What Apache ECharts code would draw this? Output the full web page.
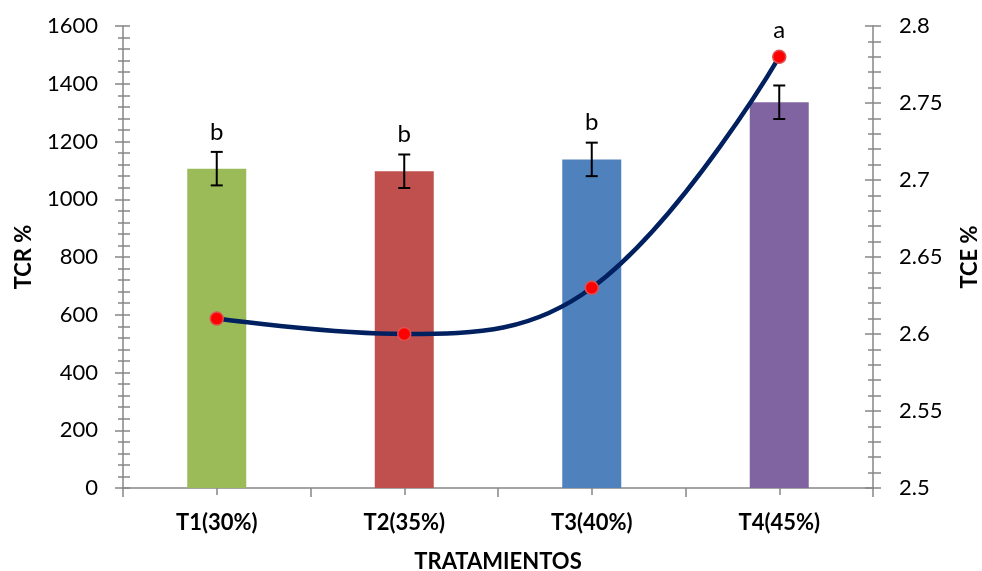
<!DOCTYPE html>
<html><head><meta charset="utf-8">
<script src="https://cdn.jsdelivr.net/npm/echarts@6/dist/echarts.min.js"></script>
<style>html,body{margin:0;padding:0;background:#fff}#c{width:982px;height:571px}</style>
</head><body><div id="c"></div>
<script>
const categories = ['T1(30%)', 'T2(35%)', 'T3(40%)', 'T4(45%)'];
const tcrValues = [1106, 1097, 1138, 1336];
const tcrErrors = [58, 58, 58, 58];
const tceValues = [2.61, 2.60, 2.63, 2.78];
const letters = ['b', 'b', 'b', 'a'];
const barColors = ['#9BBB59', '#C0504D', '#4F81BD', '#8064A2'];

const FONT = 'Lato';
const AX = '#868686';
const leftMin = 0, leftMax = 1600, rightMin = 2.5, rightMax = 2.8;

const chart = echarts.init(document.getElementById('c'));

function baseY(extra) {
  return Object.assign({
    type: 'value', splitLine: { show: false }
  }, extra);
}

const option = {
  animation: false,
  backgroundColor: '#fff',
  grid: { left: 123, right: 109, top: 26, bottom: 83, outerBoundsMode: 'none', containLabel: false },
  xAxis: [
    {
      type: 'category', data: categories, gridIndex: 0, position: 'bottom',
      axisLine: { lineStyle: { color: AX, width: 1.5 } },
      axisTick: { show: true, length: 9, lineStyle: { color: AX, width: 1.5 } },
      axisLabel: { fontFamily: FONT, fontWeight: 'bold', fontSize: 22, color: '#000', margin: 24 },
      name: 'TRATAMIENTOS', nameLocation: 'middle', nameGap: 74,
      nameTextStyle: { fontFamily: FONT, fontWeight: 'bold', fontSize: 22, color: '#000', verticalAlign: 'middle' }
    },
    {
      type: 'category', data: categories, gridIndex: 0, position: 'bottom', offset: -6,
      axisLine: { show: false },
      axisTick: { show: true, alignWithLabel: true, length: 13, lineStyle: { color: AX, width: 1.5 } },
      axisLabel: { show: false }
    }
  ],
  yAxis: [
    baseY({
      min: leftMin, max: leftMax, interval: 200, position: 'left',
      axisLine: { show: true, lineStyle: { color: AX, width: 1.5 } },
      axisTick: { show: true, length: 8, lineStyle: { color: AX, width: 1.5 } },
      minorTick: { show: true, splitNumber: 5, length: 5, lineStyle: { color: AX, width: 1.5 } },
      axisLabel: { fontFamily: FONT, fontSize: 22, color: '#000', margin: 25, formatter: v => String(v) },
      name: 'TCR %', nameLocation: 'middle', nameGap: 88, nameRotate: 90,
      nameTextStyle: { fontFamily: FONT, fontWeight: 'bold', fontSize: 22, color: '#000' }
    }),
    baseY({
      min: rightMin, max: rightMax, interval: 0.05, position: 'right',
      axisLine: { show: true, lineStyle: { color: AX, width: 1.5 } },
      axisTick: { show: true, length: 8, lineStyle: { color: AX, width: 1.5 } },
      minorTick: { show: true, splitNumber: 5, length: 8, lineStyle: { color: AX, width: 1.5 } },
      axisLabel: { fontFamily: FONT, fontSize: 22, color: '#000', margin: 26 },
      name: 'TCE %', nameLocation: 'middle', nameGap: 86, nameRotate: 90,
      nameTextStyle: { fontFamily: FONT, fontWeight: 'bold', fontSize: 22, color: '#000' }
    }),
    baseY({
      min: leftMin, max: leftMax, interval: 200, position: 'left',
      axisLine: { show: false },
      axisTick: { show: true, inside: true, length: 7, lineStyle: { color: AX, width: 1.5 } },
      minorTick: { show: true, splitNumber: 5, length: 7, lineStyle: { color: AX, width: 1.5 } },
      axisLabel: { show: false }
    }),
    baseY({
      min: rightMin, max: rightMax, interval: 0.05, position: 'right',
      axisLine: { show: false },
      axisTick: { show: true, inside: true, length: 8, lineStyle: { color: AX, width: 1.5 } },
      minorTick: { show: true, splitNumber: 5, length: 5, lineStyle: { color: AX, width: 1.5 } },
      axisLabel: { show: false }
    })
  ],
  series: [
    {
      type: 'bar', xAxisIndex: 0, yAxisIndex: 0, barWidth: 59, z: 2,
      data: tcrValues.map((v, i) => ({ value: v, itemStyle: { color: barColors[i] } }))
    },
    {
      type: 'custom', xAxisIndex: 0, yAxisIndex: 0, z: 3,
      data: tcrValues.map((v, i) => [i, v, tcrErrors[i], tceValues[i]]),
      renderItem: function (params, api) {
        const i = api.value(0), v = api.value(1), e = api.value(2), t = api.value(3);
        const top = api.coord([i, v + e]);
        const bot = api.coord([i, v - e]);
        const rect = params.coordSys;
        const lineY = rect.y + rect.height * (1 - (t - rightMin) / (rightMax - rightMin));
        const letterY = Math.min(top[1], lineY - 7) - 20;
        const cap = 6;
        const st = { stroke: '#000', lineWidth: 2 };
        return {
          type: 'group',
          children: [
            { type: 'line', shape: { x1: top[0], y1: top[1], x2: bot[0], y2: bot[1] }, style: st },
            { type: 'line', shape: { x1: top[0] - cap, y1: top[1], x2: top[0] + cap, y2: top[1] }, style: st },
            { type: 'line', shape: { x1: bot[0] - cap, y1: bot[1], x2: bot[0] + cap, y2: bot[1] }, style: st },
            { type: 'text', style: { text: letters[params.dataIndex], x: top[0], y: letterY,
              align: 'center', verticalAlign: 'middle', fill: '#000', font: '24px Lato' } }
          ]
        };
      }
    },
    {
      type: 'line', xAxisIndex: 0, yAxisIndex: 1, z: 4, smooth: 0.4,
      data: tceValues,
      lineStyle: { color: '#002060', width: 4.5 },
      symbol: 'circle', symbolSize: 13,
      itemStyle: { color: '#FF0000', borderColor: '#E05050', borderWidth: 1.5 }
    }
  ]
};
chart.setOption(option);
</script>
</body></html>
